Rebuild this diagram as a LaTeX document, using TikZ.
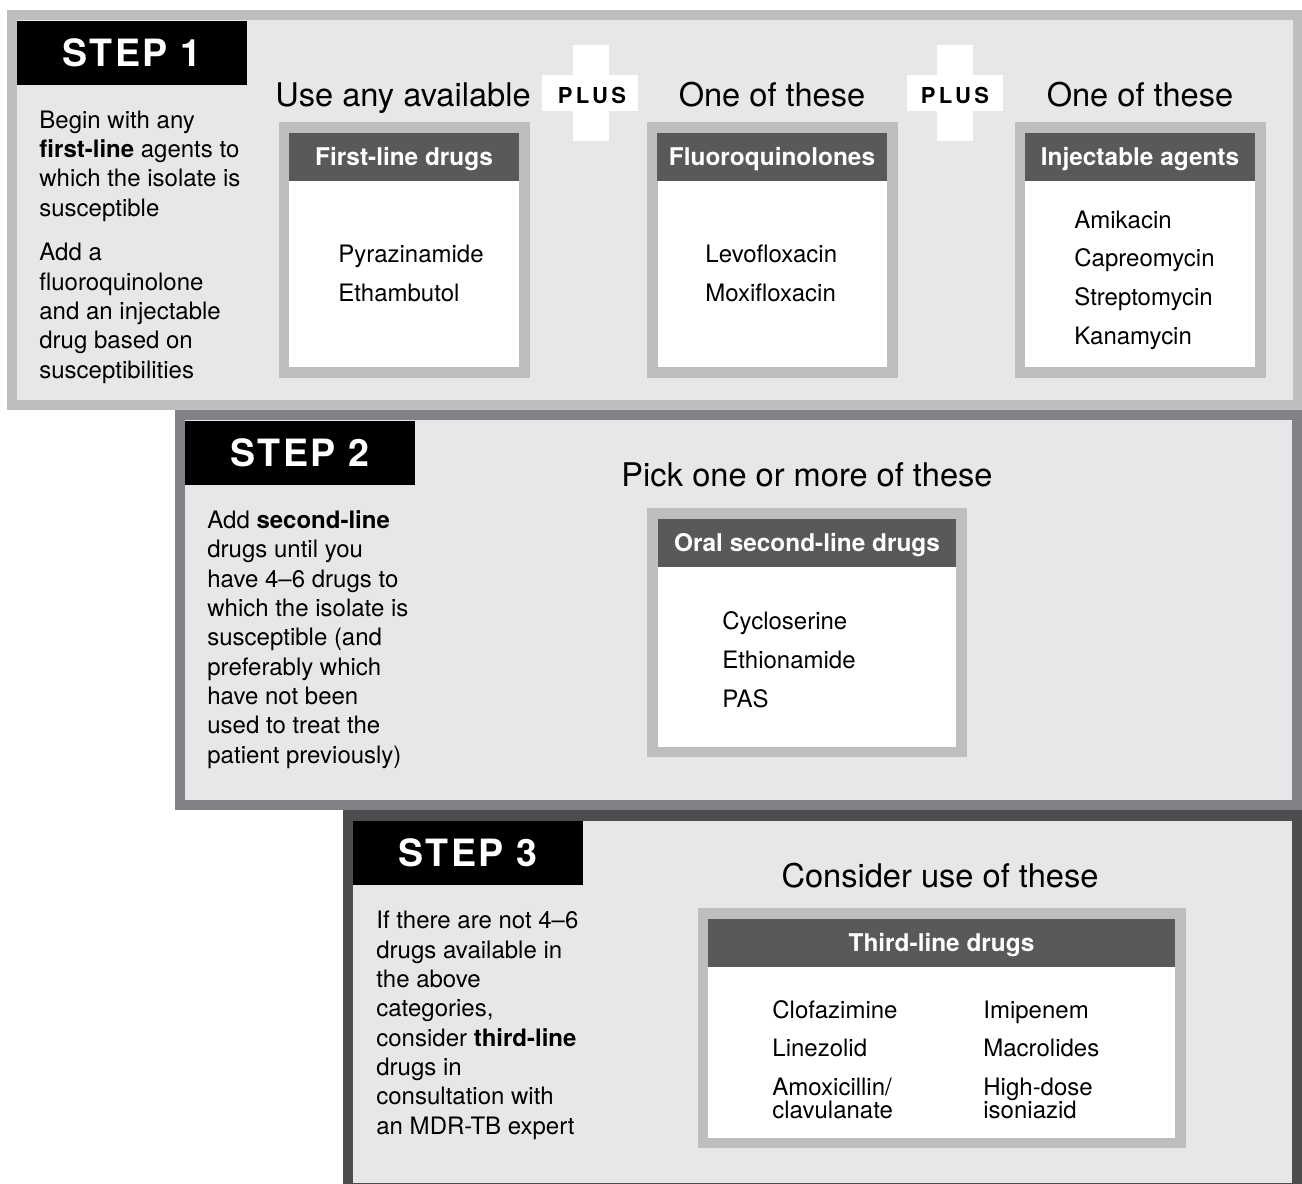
\documentclass[tikz,border=0pt]{standalone}
\usepackage{fontspec}
\setmainfont{TeX Gyre Heros}

\definecolor{panelfill}{HTML}{E6E7E8}
\definecolor{rimone}{HTML}{BCBEC0}
\definecolor{rimtwo}{HTML}{808285}
\definecolor{rimthree}{HTML}{4D4D4F}
\definecolor{headfill}{HTML}{58595B}

\begin{document}
\begin{tikzpicture}[
    x=0.5pt, y=-0.5pt,
    panelone/.style={draw=rimone, fill=panelfill, line width=5pt},
    paneltwo/.style={draw=rimtwo, fill=panelfill, line width=5pt},
    panelthree/.style={draw=rimthree, fill=panelfill, line width=5.25pt},
    listbox/.style={draw=rimone, fill=white, line width=5.25pt},
    stepbox/.style={fill=black, text=white, inner sep=0pt,
                    minimum width=115pt, minimum height=32pt,
                    font=\fontsize{18.8}{20}\selectfont\bfseries\addfontfeature{LetterSpace=6}},
    headbar/.style={fill=headfill, text=white, inner sep=0pt,
                    minimum height=24pt, text height=8.8pt, text depth=0pt,
                    font=\fontsize{12.2}{14}\selectfont\bfseries},
    headline/.style={inner sep=0pt, anchor=base,
                     font=\fontsize{16.3}{18}\selectfont},
    plussign/.style={inner sep=0pt, anchor=base,
                     font=\fontsize{11}{12}\selectfont\bfseries\addfontfeature{LetterSpace=15}},
    % multi-line texts are placed by the baseline of their last line
    bodytext/.style={inner sep=0pt, anchor=base west, align=left,
                     font=\fontsize{12}{14.65}\selectfont},
    druglist/.style={inner sep=0pt, anchor=base west, align=left,
                     font=\fontsize{12}{19.3}\selectfont}
]
    \useasboundingbox (0,0) rectangle (1302,1184);
    \clip (0,0) rectangle (1302,1184);

    % panels
    \draw[panelone] (11.5,15) rectangle (1297.5,404.5);
    \draw[paneltwo] (180,415) rectangle (1297,804.5);
    \draw[panelthree] (348,815.5) rectangle (1297,1188.5);

    % step 1
    \node[stepbox] (stepone) at (132,53) {STEP 1};
    \node[bodytext] (textone) at (39,378)
        {Begin with any\\ \textbf{first-line} agents to\\ which the isolate is\\ susceptible\\[7.75pt]
         Add a\\ fluoroquinolone\\ and an injectable\\ drug based on\\ susceptibilities};

    \node[headline] (useany) at (403,106) {Use any available};
    \node[headline] (oneofa) at (772,106) {One of these};
    \node[headline] (oneofb) at (1140,106) {One of these};

    \fill[white] (573,45) rectangle (609,141);
    \fill[white] (542,75) rectangle (638,111);
    \node[plussign] (plusa) at (592,103) {PLUS};
    \fill[white] (937,45) rectangle (973,141);
    \fill[white] (907,75) rectangle (1003,111);
    \node[plussign] (plusb) at (955,103) {PLUS};

    \draw[listbox] (284,127.5) rectangle (524.5,372.5);
    \node[headbar, minimum width=115pt] (hfirst) at (404,157) {First-line drugs};
    \node[druglist] (lfirst) at (338,301) {Pyrazinamide\\ Ethambutol};

    \draw[listbox] (652.5,127.5) rectangle (892.5,372.5);
    \node[headbar, minimum width=115pt] (hfluoro) at (772,157) {Fluoroquinolones};
    \node[druglist] (lfluoro) at (705,301) {Levofloxacin\\ Moxifloxacin};

    \draw[listbox] (1020,127.5) rectangle (1260.5,372.5);
    \node[headbar, minimum width=115pt] (hinject) at (1140,157) {Injectable agents};
    \node[druglist] (linject) at (1074,344) {Amikacin\\ Capreomycin\\ Streptomycin\\ Kanamycin};

    % step 2
    \node[stepbox] (steptwo) at (300,453) {STEP 2};
    \node[bodytext] (texttwo) at (207,763)
        {Add \textbf{second-line}\\ drugs until you\\ have 4–6 drugs to\\ which the isolate is\\
         susceptible (and\\ preferably which\\ have not been\\ used to treat the\\ patient previously)};

    \node[headline] (pickone) at (807,486) {Pick one or more of these};
    \draw[listbox] (652.5,513.5) rectangle (961.5,752);
    \node[headbar, minimum width=149pt] (horal) at (807,543) {Oral second-line drugs};
    \node[druglist] (loral) at (722,707) {Cycloserine\\ Ethionamide\\ PAS};

    % step 3
    \node[stepbox] (stepthree) at (468,853) {STEP 3};
    \node[bodytext] (textthree) at (376,1134)
        {If there are not 4–6\\ drugs available in\\ the above\\ categories,\\
         consider \textbf{third-line}\\ drugs in\\ consultation with\\ an MDR-TB expert};

    \node[headline] (consider) at (940,887) {Consider use of these};
    \draw[listbox] (703,913.5) rectangle (1180.5,1143);
    \node[headbar, minimum width=233.5pt] (hthird) at (941.5,943) {Third-line drugs};
    \node[druglist] (lthirda) at (772,1118)
        {Clofazimine\\ Linezolid\\ Amoxicillin/\\[-8pt] clavulanate};
    \node[druglist] (lthirdb) at (983,1118)
        {Imipenem\\ Macrolides\\ High-dose\\[-8pt] isoniazid};
\end{tikzpicture}
\end{document}
